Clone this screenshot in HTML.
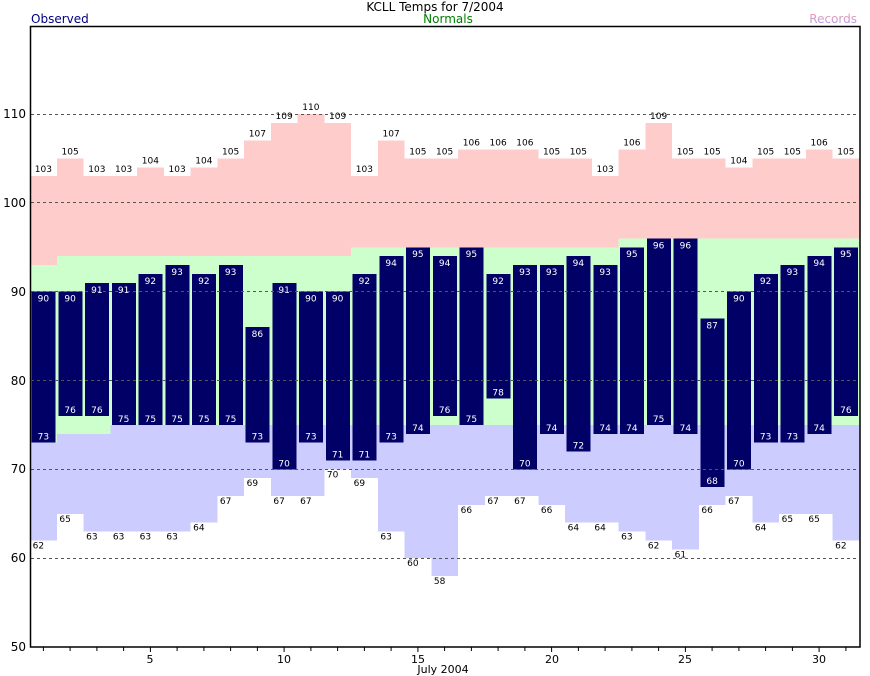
<!DOCTYPE html>
<html><head><meta charset="utf-8"><style>
html,body{margin:0;padding:0;background:#fff;}
svg{display:block;font-family:"DejaVu Sans","Liberation Sans",sans-serif;}
.o{fill:#fff;font-size:9px;text-anchor:middle;}
.r{fill:#000;font-size:9px;text-anchor:middle;}
.ax{font-size:12px;fill:#000;}
</style></head><body>
<svg width="870" height="676" viewBox="0 0 870 676" xmlns="http://www.w3.org/2000/svg">
<defs><linearGradient id="rg" x1="0" y1="0" x2="0" y2="1"><stop offset="0" stop-color="#ff9c9c"/><stop offset="1" stop-color="#9c9cff"/></linearGradient></defs>
<rect width="870" height="676" fill="#fff"/>
<g transform="translate(30,647) scale(26.75,-8.883)" shape-rendering="crispEdges">
<path fill="#ffcccc" d="M0 0V53H1V55H2V53H4V54H5V53H6V54H7V55H8V57H9V59H10V60H11V59H12V53H13V57H14V55H16V56H19V55H21V53H22V56H23V59H24V55H26V54H27V55H29V56H30V55H31V0Z"/>
<path fill="#ccffcc" d="M0 0V43H1V44H12V45H22V46H31V0Z"/>
<path fill="#ccccff" d="M0 0V23H1V24H3V25H31V0Z"/>
<path fill="#fff" d="M0 0V12H1V15H2V13H6V14H7V17H8V19H9V17H11V20H12V19H13V13H14V10H15V8H16V16H17V17H19V16H20V14H22V13H23V12H24V11H25V16H26V17H27V14H28V15H30V12H31V0Z"/>
<g fill="#000066">
<rect x="0.06" y="23" width="0.9" height="17"/>
<rect x="1.06" y="26" width="0.9" height="14"/>
<rect x="2.06" y="26" width="0.9" height="15"/>
<rect x="3.06" y="25" width="0.9" height="16"/>
<rect x="4.06" y="25" width="0.9" height="17"/>
<rect x="5.06" y="25" width="0.9" height="18"/>
<rect x="6.06" y="25" width="0.9" height="17"/>
<rect x="7.06" y="25" width="0.9" height="18"/>
<rect x="8.06" y="23" width="0.9" height="13"/>
<rect x="9.06" y="20" width="0.9" height="21"/>
<rect x="10.06" y="23" width="0.9" height="17"/>
<rect x="11.06" y="21" width="0.9" height="19"/>
<rect x="12.06" y="21" width="0.9" height="21"/>
<rect x="13.06" y="23" width="0.9" height="21"/>
<rect x="14.06" y="24" width="0.9" height="21"/>
<rect x="15.06" y="26" width="0.9" height="18"/>
<rect x="16.06" y="25" width="0.9" height="20"/>
<rect x="17.06" y="28" width="0.9" height="14"/>
<rect x="18.06" y="20" width="0.9" height="23"/>
<rect x="19.06" y="24" width="0.9" height="19"/>
<rect x="20.06" y="22" width="0.9" height="22"/>
<rect x="21.06" y="24" width="0.9" height="19"/>
<rect x="22.06" y="24" width="0.9" height="21"/>
<rect x="23.06" y="25" width="0.9" height="21"/>
<rect x="24.06" y="24" width="0.9" height="22"/>
<rect x="25.06" y="18" width="0.9" height="19"/>
<rect x="26.06" y="20" width="0.9" height="20"/>
<rect x="27.06" y="23" width="0.9" height="19"/>
<rect x="28.06" y="23" width="0.9" height="20"/>
<rect x="29.06" y="24" width="0.9" height="20"/>
<rect x="30.06" y="26" width="0.9" height="19"/>
</g>
</g>
<g stroke="#555" stroke-dasharray="3,3" stroke-width="1">
<line x1="31" x2="859" y1="558.5" y2="558.5"/>
<line x1="31" x2="859" y1="469.5" y2="469.5"/>
<line x1="31" x2="859" y1="380.5" y2="380.5"/>
<line x1="31" x2="859" y1="291.5" y2="291.5"/>
<line x1="31" x2="859" y1="202.5" y2="202.5"/>
<line x1="31" x2="859" y1="114.5" y2="114.5"/>
</g>
<rect x="30.5" y="26.5" width="829.5" height="620.5" fill="none" stroke="#000" stroke-width="1.5"/>
<g stroke="#000" stroke-width="1">
<path d="M43.4 647V651M70.1 647V651M96.9 647V651M123.6 647V651M150.4 647V652M177.1 647V651M203.9 647V651M230.6 647V651M257.4 647V651M284.1 647V652M310.9 647V651M337.6 647V651M364.4 647V651M391.1 647V651M417.9 647V652M444.6 647V651M471.4 647V651M498.1 647V651M524.9 647V651M551.6 647V652M578.4 647V651M605.1 647V651M631.9 647V651M658.6 647V651M685.4 647V652M712.1 647V651M738.9 647V651M765.6 647V651M792.4 647V651M819.1 647V652M845.9 647V651"/>
</g>
<g class="ax" text-anchor="end">
<text x="26" y="651">50</text><text x="26" y="562">60</text><text x="26" y="473">70</text><text x="26" y="385">80</text><text x="26" y="296">90</text><text x="26" y="207">100</text><text x="26" y="118">110</text>
</g>
<g class="ax" text-anchor="middle" style="font-size:11px">
<text x="150" y="663">5</text><text x="284" y="663">10</text><text x="418" y="663">15</text><text x="552" y="663">20</text><text x="685" y="663">25</text><text x="819" y="663">30</text>
<text x="443" y="673">July 2004</text>
</g>
<text x="435" y="11" class="ax" text-anchor="middle">KCLL Temps for 7/2004</text>
<text x="31" y="23" class="ax" fill="#000080" style="fill:#000080">Observed</text>
<text x="448" y="23" class="ax" text-anchor="middle" style="fill:#008000">Normals</text>
<text x="857" y="23" class="ax" text-anchor="end" fill="url(#rg)" style="fill:url(#rg)">Records</text>
<g class="o">
<text x="43.4" y="301.7">90</text><text x="70.1" y="301.7">90</text><text x="96.9" y="292.8">91</text><text x="123.6" y="292.8">91</text><text x="150.4" y="283.9">92</text><text x="177.1" y="275">93</text><text x="203.9" y="283.9">92</text><text x="230.6" y="275">93</text><text x="257.4" y="337.2">86</text><text x="284.1" y="292.8">91</text><text x="310.9" y="301.7">90</text><text x="337.6" y="301.7">90</text><text x="364.4" y="283.9">92</text><text x="391.1" y="266.1">94</text><text x="417.9" y="257.2">95</text><text x="444.6" y="266.1">94</text><text x="471.4" y="257.2">95</text><text x="498.1" y="283.9">92</text><text x="524.9" y="275">93</text><text x="551.6" y="275">93</text><text x="578.4" y="266.1">94</text><text x="605.1" y="275">93</text><text x="631.9" y="257.2">95</text><text x="658.6" y="248.4">96</text><text x="685.4" y="248.4">96</text><text x="712.1" y="328.3">87</text><text x="738.9" y="301.7">90</text><text x="765.6" y="283.9">92</text><text x="792.4" y="275">93</text><text x="819.1" y="266.1">94</text><text x="845.9" y="257.2">95</text>
<text x="43.4" y="439.7">73</text><text x="70.1" y="413">76</text><text x="96.9" y="413">76</text><text x="123.6" y="421.9">75</text><text x="150.4" y="421.9">75</text><text x="177.1" y="421.9">75</text><text x="203.9" y="421.9">75</text><text x="230.6" y="421.9">75</text><text x="257.4" y="439.7">73</text><text x="284.1" y="466.3">70</text><text x="310.9" y="439.7">73</text><text x="337.6" y="457.4">71</text><text x="364.4" y="457.4">71</text><text x="391.1" y="439.7">73</text><text x="417.9" y="430.8">74</text><text x="444.6" y="413">76</text><text x="471.4" y="421.9">75</text><text x="498.1" y="395.3">78</text><text x="524.9" y="466.3">70</text><text x="551.6" y="430.8">74</text><text x="578.4" y="448.6">72</text><text x="605.1" y="430.8">74</text><text x="631.9" y="430.8">74</text><text x="658.6" y="421.9">75</text><text x="685.4" y="430.8">74</text><text x="712.1" y="484.1">68</text><text x="738.9" y="466.3">70</text><text x="765.6" y="439.7">73</text><text x="792.4" y="439.7">73</text><text x="819.1" y="430.8">74</text><text x="845.9" y="413">76</text>
</g>
<g class="r">
<text x="43.4" y="172.2">103</text><text x="70.1" y="154.4">105</text><text x="96.9" y="172.2">103</text><text x="123.6" y="172.2">103</text><text x="150.4" y="163.3">104</text><text x="177.1" y="172.2">103</text><text x="203.9" y="163.3">104</text><text x="230.6" y="154.4">105</text><text x="257.4" y="136.6">107</text><text x="284.1" y="118.9">109</text><text x="310.9" y="110">110</text><text x="337.6" y="118.9">109</text><text x="364.4" y="172.2">103</text><text x="391.1" y="136.6">107</text><text x="417.9" y="154.4">105</text><text x="444.6" y="154.4">105</text><text x="471.4" y="145.5">106</text><text x="498.1" y="145.5">106</text><text x="524.9" y="145.5">106</text><text x="551.6" y="154.4">105</text><text x="578.4" y="154.4">105</text><text x="605.1" y="172.2">103</text><text x="631.9" y="145.5">106</text><text x="658.6" y="118.9">109</text><text x="685.4" y="154.4">105</text><text x="712.1" y="154.4">105</text><text x="738.9" y="163.3">104</text><text x="765.6" y="154.4">105</text><text x="792.4" y="154.4">105</text><text x="819.1" y="145.5">106</text><text x="845.9" y="154.4">105</text>
<text x="38.4" y="548.4">62</text><text x="65.1" y="521.8">65</text><text x="91.9" y="539.5">63</text><text x="118.6" y="539.5">63</text><text x="145.4" y="539.5">63</text><text x="172.1" y="539.5">63</text><text x="198.9" y="530.6">64</text><text x="225.6" y="504">67</text><text x="252.4" y="486.2">69</text><text x="279.1" y="504">67</text><text x="305.9" y="504">67</text><text x="332.6" y="477.3">70</text><text x="359.4" y="486.2">69</text><text x="386.1" y="539.5">63</text><text x="412.9" y="566.2">60</text><text x="439.6" y="583.9">58</text><text x="466.4" y="512.9">66</text><text x="493.1" y="504">67</text><text x="519.9" y="504">67</text><text x="546.6" y="512.9">66</text><text x="573.4" y="530.6">64</text><text x="600.1" y="530.6">64</text><text x="626.9" y="539.5">63</text><text x="653.6" y="548.4">62</text><text x="680.4" y="557.3">61</text><text x="707.1" y="512.9">66</text><text x="733.9" y="504">67</text><text x="760.6" y="530.6">64</text><text x="787.4" y="521.8">65</text><text x="814.1" y="521.8">65</text><text x="840.9" y="548.4">62</text>
</g>
</svg>
</body></html>
